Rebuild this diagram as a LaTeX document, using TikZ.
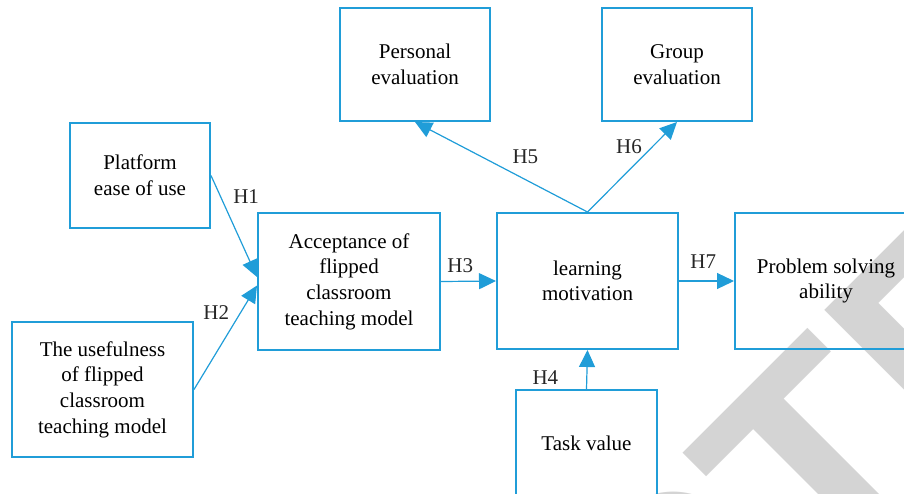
\documentclass[tikz,border=0pt]{standalone}
\usepackage{fontspec}
\setmainfont{Liberation Serif}
\newfontfamily\markfont{Liberation Sans}
\usetikzlibrary{arrows.meta}
\definecolor{linkblue}{RGB}{32,157,216}
\definecolor{markgray}{RGB}{212,212,212}

\begin{document}
\begin{tikzpicture}[x=0.5pt,y=-0.5pt,
  every node/.style={font=\fontsize{10.5}{12.8}\selectfont},
  box/.style={draw=linkblue,line width=1pt,align=center,inner sep=0pt},
  link/.style={draw=linkblue,line width=0.6pt,-{Triangle[length=8.5pt,width=8pt]}},
  hyp/.style={inner sep=0pt,text=black!85},
  wmletter/.style={text=markgray,font=\markfont\bfseries\fontsize{150}{150}\selectfont,inner sep=0pt,rotate=45}]
\useasboundingbox (0,0) rectangle (904,493);
\clip (0,0) rectangle (904,493);

\node[wmletter,anchor=north] (wmT) at (745,390) {T};
\node[wmletter,anchor=base east] (wmRetrac) at (wmT.base west) {RETRAC};
\node[wmletter,anchor=base west] (wmEd) at (wmT.base east) {ED};

\node[box,minimum width=75pt,minimum height=56.5pt] (pers) at (415,64.5) {Personal\\evaluation};
\node[box,minimum width=75pt,minimum height=56.5pt] (grp) at (677,64.5) {Group\\evaluation};
\node[box,minimum width=70pt,minimum height=52.5pt] (plat) at (140,175.5) {Platform\\ease of use};
\node[box,minimum width=91pt,minimum height=68.5pt] (accept) at (349,281.5) {Acceptance of\\flipped\\classroom\\teaching model};
\node[box,minimum width=90.5pt,minimum height=68pt] (motiv) at (587.5,281) {learning\\motivation};
\node[box,minimum width=91pt,minimum height=68pt] (solve) at (826,281) {Problem solving\\ability};
\node[box,minimum width=90.5pt,minimum height=67.5pt] (useful) at (102.5,389.5) {The usefulness\\of flipped\\classroom\\teaching model};
\node[box,minimum width=70.5pt,minimum height=53pt] (task) at (586.5,443) {Task value};

\draw[link] (plat.east) -- node[hyp,pos=0.21,right=6pt] {H1} ([yshift=2.25pt]accept.west);
\draw[link] (useful.east) -- node[hyp,pos=0.74,left=5.5pt] {H2} ([yshift=-2pt]accept.west);
\draw[link] (accept.east) -- node[hyp,pos=0.35,above=4pt] {H3} (motiv.west);
\draw[link] (task.north) -- node[hyp,pos=0.29,left=14pt] {H4} (motiv.south);
\draw[link] (motiv.north) -- node[hyp,pos=0.36,above=7.5pt] {H5} (pers.south);
\draw[link] (motiv.north) -- node[hyp,pos=0.725,left=5pt] {H6} (grp.south);
\draw[link] (motiv.east) -- node[hyp,pos=0.44,above=6pt] {H7} (solve.west);
\end{tikzpicture}
\end{document}
